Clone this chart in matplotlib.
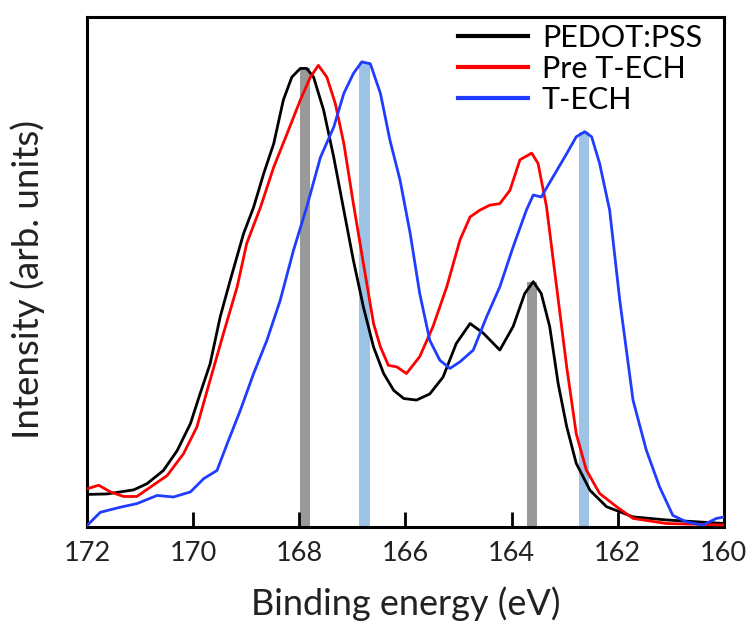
import matplotlib

matplotlib.use("Agg")
import matplotlib.pyplot as plt

plt.rcParams["font.family"] = ["Lato", "DejaVu Sans"]

# S 2p spectra, normalised intensity
pedot_ev = [172.00, 171.62, 171.12, 170.87, 170.56, 170.30, 170.05, 169.87, 169.68, 169.49,
            169.30, 169.05, 168.86, 168.67, 168.48, 168.30, 168.14, 167.98, 167.86, 167.73,
            167.54, 167.35, 167.16, 166.98, 166.79, 166.60, 166.41, 166.22, 166.03, 165.79,
            165.54, 165.29, 165.04, 164.78, 164.53, 164.22, 163.97, 163.75, 163.59, 163.44,
            163.28, 163.12, 162.96, 162.78, 162.52, 162.21, 161.71, 161.08, 159.98]
pedot_int = [0.064, 0.065, 0.073, 0.085, 0.111, 0.150, 0.203, 0.261, 0.320, 0.412,
             0.484, 0.575, 0.627, 0.693, 0.752, 0.837, 0.882, 0.899, 0.899, 0.882,
             0.817, 0.725, 0.621, 0.523, 0.431, 0.353, 0.301, 0.268, 0.252, 0.249,
             0.261, 0.294, 0.360, 0.399, 0.380, 0.347, 0.393, 0.458, 0.481, 0.458,
             0.393, 0.281, 0.197, 0.125, 0.072, 0.040, 0.020, 0.014, 0.007]

pre_ev = [172.00, 171.78, 171.56, 171.31, 171.06, 170.81, 170.49, 170.18, 169.93, 169.68,
          169.43, 169.17, 168.99, 168.73, 168.48, 168.23, 167.98, 167.79, 167.64, 167.48,
          167.32, 167.16, 166.98, 166.79, 166.60, 166.47, 166.32, 166.16, 165.98, 165.73,
          165.48, 165.22, 164.97, 164.78, 164.60, 164.41, 164.22, 164.03, 163.84, 163.62,
          163.50, 163.34, 163.15, 162.96, 162.78, 162.59, 162.34, 162.02, 161.71, 161.08, 159.98]
pre_int = [0.075, 0.082, 0.069, 0.060, 0.060, 0.078, 0.101, 0.144, 0.196, 0.288,
           0.379, 0.471, 0.556, 0.627, 0.706, 0.771, 0.837, 0.882, 0.905, 0.882,
           0.830, 0.752, 0.634, 0.516, 0.399, 0.353, 0.317, 0.314, 0.301, 0.334,
           0.393, 0.471, 0.563, 0.608, 0.621, 0.631, 0.634, 0.660, 0.720, 0.733,
           0.713, 0.628, 0.471, 0.314, 0.183, 0.112, 0.066, 0.040, 0.017, 0.007, 0.004]

tech_ev = [172.00, 171.75, 171.37, 171.06, 170.68, 170.37, 170.05, 169.80, 169.55, 169.36,
           169.11, 168.86, 168.61, 168.36, 168.11, 167.86, 167.60, 167.35, 167.16, 166.98,
           166.82, 166.66, 166.47, 166.29, 166.10, 165.91, 165.73, 165.54, 165.35, 165.16,
           164.97, 164.72, 164.47, 164.22, 163.97, 163.72, 163.59, 163.44, 163.22, 162.96,
           162.78, 162.62, 162.49, 162.34, 162.15, 161.96, 161.71, 161.46, 161.21, 160.96,
           160.70, 160.39, 160.14, 159.98]
tech_int = [0.003, 0.029, 0.039, 0.046, 0.062, 0.059, 0.069, 0.095, 0.111, 0.163,
            0.229, 0.301, 0.366, 0.444, 0.542, 0.627, 0.725, 0.784, 0.850, 0.889,
            0.912, 0.908, 0.850, 0.758, 0.680, 0.576, 0.458, 0.366, 0.327, 0.311,
            0.324, 0.347, 0.412, 0.471, 0.549, 0.621, 0.651, 0.647, 0.686, 0.732,
            0.765, 0.775, 0.765, 0.713, 0.621, 0.445, 0.249, 0.151, 0.079, 0.023,
            0.010, 0.004, 0.017, 0.020]

# peak markers: position (eV) and height
marker_ev = [167.89, 166.77, 163.61, 162.63]
marker_height = [0.899, 0.912, 0.481, 0.775]
marker_color = ["#999999", "#9dc3e6", "#999999", "#9dc3e6"]

fig = plt.figure(figsize=(7.5, 6.26), dpi=100)
ax = fig.add_axes([0.116, 0.158, 0.849, 0.815])

ax.bar(marker_ev, marker_height, width=0.19, color=marker_color, zorder=1)
style = dict(lw=2.0, zorder=3, solid_joinstyle="round")
ax.plot(pedot_ev, pedot_int, color="black", label="PEDOT:PSS", **style)
ax.plot(pre_ev, pre_int, color="#ff0000", label="Pre T-ECH", **style)
ax.plot(tech_ev, tech_int, color="#1f3cff", label="T-ECH", **style)

ax.set_xlim(172, 160)
ax.set_ylim(0, 1)
ax.set_xticks([172, 170, 168, 166, 164, 162, 160])
ax.set_yticks([])
ax.tick_params(axis="x", direction="in", length=11, width=2, labelsize=19.5, pad=10,
               labelcolor="#222222")
for sp in ax.spines.values():
    sp.set_linewidth(2.2)

ax.set_xlabel("Binding energy (eV)", fontsize=26, color="#222222", labelpad=15)
ax.set_ylabel("Intensity (arb. units)", fontsize=26.5, color="#222222")
ax.yaxis.set_label_coords(-0.066, 0.485)

leg = ax.legend(loc="upper right", frameon=False, fontsize=22, handlelength=2.3,
                handletextpad=0.45, labelspacing=0.1, borderaxespad=0.0,
                bbox_to_anchor=(0.985, 1.01))
for line in leg.get_lines():
    line.set_linewidth(3)

fig.savefig("out.png", dpi=100)
